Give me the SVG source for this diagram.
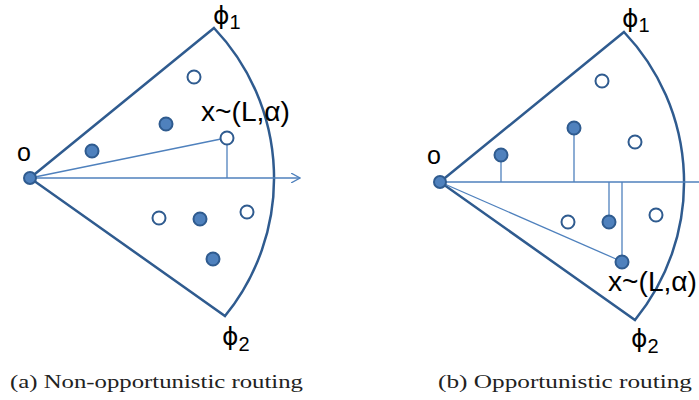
<svg xmlns="http://www.w3.org/2000/svg" width="699" height="400" viewBox="0 0 699 400">
<defs>
<style>
.sector{fill:none;stroke:#2f5b8f;stroke-width:2.5;stroke-linejoin:miter}
.thin{stroke:#4f81bd;stroke-width:1.3;fill:none}
.full{fill:#4f81bd;stroke:#2f5b8f;stroke-width:2}
.open{fill:#fff;stroke:#2f5b8f;stroke-width:2}
.lbl{font-family:"Liberation Sans",Arial,sans-serif;fill:#000}
.phi{font-family:"DejaVu Sans",sans-serif;fill:#000;font-size:25px}
.sub{font-family:"Liberation Sans",Arial,sans-serif;font-size:20px}
.cap{font-family:"Liberation Serif","DejaVu Serif",serif;fill:#222;font-size:18px}
</style>
<marker id="arr" viewBox="0 0 10 10" refX="9" refY="5" markerWidth="10" markerHeight="10" markerUnits="userSpaceOnUse" orient="auto">
<path d="M0,0 L9,5 L0,10" fill="none" stroke="#4f81bd" stroke-width="1.3"/>
</marker>
</defs>
<rect width="699" height="400" fill="#fff"/>

<g id="connectors">
<path class="sector" d="M30,178 L214,28 A218 218 0 0 1 225,316 Z"/>
<line class="thin" x1="30" y1="178" x2="300" y2="178" marker-end="url(#arr)"/>
<line class="thin" x1="30" y1="178" x2="221" y2="139"/>
<line class="thin" x1="227" y1="145" x2="227" y2="178"/>

<path class="sector" d="M440,182 L624,32 A218 218 0 0 1 635,320 Z"/>
<line class="thin" x1="440" y1="182" x2="705" y2="182"/>
<line class="thin" x1="440" y1="182" x2="616" y2="259"/>
<line class="thin" x1="501" y1="162" x2="501" y2="182"/>
<line class="thin" x1="574" y1="135" x2="574" y2="182"/>
<line class="thin" x1="609" y1="182" x2="609" y2="215" stroke="#3a6aa8"/>
<line class="thin" x1="622" y1="182" x2="622" y2="255"/>
</g>

<g id="a-origin"><circle class="full" cx="30" cy="178" r="6"/><text class="lbl" x="17" y="161" font-size="25">o</text></g>
<g id="a-phi1"><text class="phi" x="213" y="24">ϕ<tspan class="sub" dy="5">1</tspan></text></g>
<g id="a-phi2"><text class="phi" x="222" y="345">ϕ<tspan class="sub" dy="6">2</tspan></text></g>
<g id="a-n1"><circle class="open" cx="194" cy="77" r="6.5"/></g>
<g id="a-n2"><circle class="full" cx="166" cy="124" r="6.5"/></g>
<g id="a-n3"><circle class="full" cx="92" cy="151" r="6.5"/></g>
<g id="a-x"><circle class="open" cx="227" cy="138" r="6.5"/><text class="lbl" x="201" y="121" font-size="28" textLength="89" lengthAdjust="spacingAndGlyphs">x~(L,α)</text></g>
<g id="a-n4"><circle class="open" cx="159" cy="218" r="6.5"/></g>
<g id="a-n5"><circle class="full" cx="200" cy="219" r="6.5"/></g>
<g id="a-n6"><circle class="open" cx="247" cy="212" r="6.5"/></g>
<g id="a-n7"><circle class="full" cx="213" cy="259" r="6.5"/></g>
<g id="a-caption"><text class="cap" x="10" y="388" textLength="293" lengthAdjust="spacingAndGlyphs">(a) Non-opportunistic routing</text></g>

<g id="b-origin"><circle class="full" cx="440" cy="182" r="6"/><text class="lbl" x="427" y="164" font-size="25">o</text></g>
<g id="b-phi1"><text class="phi" x="622" y="27">ϕ<tspan class="sub" dy="5">1</tspan></text></g>
<g id="b-phi2"><text class="phi" x="631" y="347">ϕ<tspan class="sub" dy="6">2</tspan></text></g>
<g id="b-n1"><circle class="full" cx="501" cy="155" r="6.5"/></g>
<g id="b-n2"><circle class="full" cx="574" cy="128" r="6.5"/></g>
<g id="b-n3"><circle class="open" cx="602" cy="81" r="6.5"/></g>
<g id="b-n4"><circle class="open" cx="635" cy="142" r="6.5"/></g>
<g id="b-n5"><circle class="open" cx="568" cy="222" r="6.5"/></g>
<g id="b-n6"><circle class="full" cx="609" cy="222" r="6.5"/></g>
<g id="b-n7"><circle class="open" cx="656" cy="215" r="6.5"/></g>
<g id="b-x"><circle class="full" cx="622" cy="262" r="6.5"/><text class="lbl" x="608" y="291" font-size="28" textLength="89" lengthAdjust="spacingAndGlyphs">x~(L,α)</text></g>
<g id="b-caption"><text class="cap" x="438" y="388" textLength="254" lengthAdjust="spacingAndGlyphs">(b) Opportunistic routing</text></g>
</svg>
